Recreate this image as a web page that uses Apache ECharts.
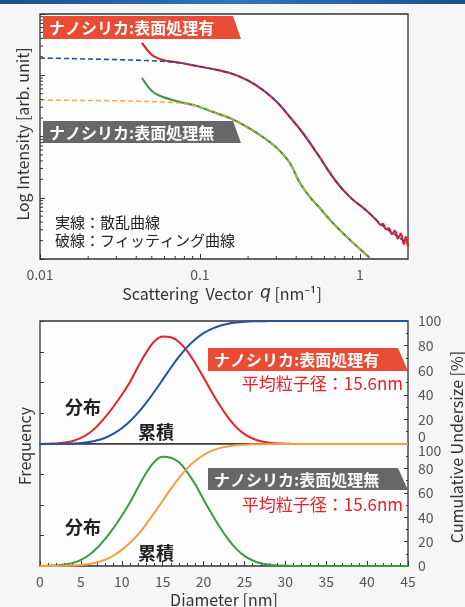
<!DOCTYPE html>
<html><head><meta charset="utf-8">
<script src="https://cdn.jsdelivr.net/npm/echarts@6/dist/echarts.min.js"></script>
<style>html,body{margin:0;padding:0;background:#f6f6f6;}#c{width:465px;height:607px;}</style>
</head><body><div id="c"></div>
<script>
// ---- Top chart: scattering curves (q in nm^-1, intensity arb.) ----
const treatedQ = [0.0434, 0.0501, 0.0587, 0.075, 0.0958, 0.1206, 0.154, 0.197, 0.248, 0.303, 0.365, 0.44, 0.538, 0.698, 0.866, 1.106, 1.25, 1.3, 1.35, 1.40, 1.454, 1.517, 1.585, 1.655, 1.728, 1.803, 1.884, 1.939, 2.0];
const treatedI = [3365, 2142, 1775, 1600, 1416, 1265, 1088, 836, 574, 366, 208, 114, 53.8, 19.5, 10.3, 6.08, 4.5, 4.0, 3.6, 3.75, 3.05, 3.2, 2.55, 2.9, 2.15, 2.6, 1.75, 2.3, 1.6];
const treatedFitQ = [0.01, 0.02, 0.0365, 0.0587, 0.075, 0.0958, 0.1206, 0.154, 0.197, 0.248, 0.303, 0.365, 0.44, 0.538, 0.698, 0.866, 1.106, 1.393, 1.778, 2.0];
const treatedFitI = [1914, 1842, 1775, 1690, 1585, 1416, 1265, 1088, 836, 574, 366, 208, 114, 53.8, 19.5, 10.3, 6.08, 3.46, 2.2, 1.76];
const untreatedQ = [0.0434, 0.0501, 0.0587, 0.075, 0.0958, 0.1206, 0.154, 0.197, 0.248, 0.303, 0.365, 0.422, 0.487, 0.562, 0.678, 0.83, 1.0, 1.155];
const untreatedI = [902, 553, 441, 366, 315, 251, 200, 143, 98, 64.9, 36.9, 17.4, 10.3, 6.8, 3.87, 2.29, 1.46, 1.04];
const untreatedFitQ = [0.01, 0.02, 0.0365, 0.0587, 0.075, 0.0958, 0.1206, 0.154, 0.197, 0.248, 0.303, 0.365, 0.422, 0.487, 0.562, 0.678, 0.83, 1.0, 1.155];
const untreatedFitI = [394, 387, 380, 366, 352, 315, 251, 200, 143, 98, 64.9, 36.9, 17.4, 10.3, 6.8, 3.87, 2.29, 1.46, 1.04];
const qTickLabels = ['0.01', '0.1', '1'];
const qMinorTicks = [0.02,0.03,0.04,0.05,0.06,0.07,0.08,0.09,0.2,0.3,0.4,0.5,0.6,0.7,0.8,0.9];
const iMinorTicks = [2,3,4,5,6,7,8,9,20,30,40,50,60,70,80,90,200,300,400,500,600,700,800,900,2000,3000,4000,5000,6000,7000,8000,9000];

// ---- Bottom chart: particle size distribution (diameter nm) ----
const diameters = [0,1,2,3,4,5,6,7,8,9,10,11,12,13,14,15,16,17,18,19,20,21,22,23,24,25,26,27,28,29,30,31,32,33,34,35,36,37,38,39,40,41,42,43,44,45];
const freqTreated = [0,0.01,0.02,0.05,0.1,0.2,0.35,0.58,0.88,1.22,1.6,2.02,2.52,2.98,3.34,3.5,3.47,3.32,3.02,2.62,2.16,1.69,1.25,0.86,0.55,0.32,0.18,0.09,0.04,0.02,0.01,0,0,0,0,0,0,0,0,0,0,0,0,0,0,0];
const cumTreated = [0,0,0.1,0.2,0.4,0.8,1.6,3.0,5.1,8.4,12.8,18.5,25.5,33.7,42.7,52.3,62.0,71.0,78.8,85.2,90.1,93.6,96.1,97.7,98.7,99.3,99.7,99.85,99.93,99.97,100,100,100,100,100,100,100,100,100,100,100,100,100,100,100,100];
const freqUntreated = [0,0.01,0.02,0.05,0.1,0.2,0.36,0.6,0.9,1.25,1.65,2.08,2.58,3.06,3.42,3.58,3.55,3.4,3.08,2.67,2.18,1.71,1.27,0.88,0.56,0.33,0.18,0.09,0.04,0.02,0.01,0,0,0,0,0,0,0,0,0,0,0,0,0,0,0];
const cumUntreated = [0,0,0.1,0.2,0.4,0.8,1.6,3.0,5.2,8.6,13.2,19.0,26.0,34.5,43.8,53.5,63.2,72.2,80.0,86.2,91.0,94.4,96.6,98.0,98.9,99.4,99.7,99.85,99.93,99.97,100,100,100,100,100,100,100,100,100,100,100,100,100,100,100,100];
const cumTicks = [0,20,40,60,80,100];

const FONT = '"Noto Sans CJK JP", "Noto Sans", sans-serif';
const RED = '#e8202a', BLUE = '#2a4f9e', GREEN = '#3a9a45', ORANGE = '#f0a040';
const AX = '#333';

const zip = (a, b) => a.map((v, i) => [v, b[i]]);

function minorTickSeries(data, dir, len) {
  return {
    type: 'custom', xAxisIndex: 0, yAxisIndex: 0, silent: true, clip: false, z: 5,
    data: data,
    renderItem: (p, api) => {
      const c = api.coord([api.value(0), api.value(1)]);
      const shape = dir === 'x' ? {x1:c[0], y1:c[1], x2:c[0], y2:c[1]-len} : {x1:c[0], y1:c[1], x2:c[0]+len, y2:c[1]};
      return {type:'line', shape, style:{stroke:AX, lineWidth:1}};
    }
  };
}

function banner(x, y, w, h, slant, color, text) {
  return [
    {type:'polygon', shape:{points:[[x,y],[x+w-slant,y],[x+w,y+h],[x,y+h]]}, style:{fill:color}, z:100},
    {type:'text', x:x+6, y:y+h/2+0.5, z:101, style:{text, fill:'#fff', fontSize:16, fontWeight:'bold', fontFamily:FONT, verticalAlign:'middle', align:'left'}}
  ];
}
function txt(x, y, text, size, color, opts) {
  return Object.assign({type:'text', x, y, z:101, style:Object.assign({text, fill:color, fontSize:size, fontFamily:FONT, verticalAlign:'middle', align:'left'}, (opts && opts.style) || {})}, (opts && opts.el) || {});
}

const gridBase = {show:true, borderColor:AX, borderWidth:1.3, backgroundColor:'#fdfdfd'};

const option = {
  backgroundColor: '#f6f6f6',
  animation: false,
  textStyle: {fontFamily: FONT},
  grid: [
    Object.assign({left:40, top:14, width:368, height:245}, gridBase),
    Object.assign({left:40, top:321, width:368, height:123}, gridBase),
    Object.assign({left:40, top:444, width:368, height:122}, gridBase)
  ],
  xAxis: [
    {type:'log', gridIndex:0, min:0.01, max:2, logBase:10,
     axisLine:{show:false}, splitLine:{show:false},
     axisTick:{inside:true, length:5, lineStyle:{color:AX}},
     axisLabel:{color:'#555', fontSize:14, margin:9, showMaxLabel:false,
       formatter: v => { const l = Math.log10(v); const i = Math.round(l) + 2; return Math.abs(l - Math.round(l)) < 1e-6 && qTickLabels[i] ? qTickLabels[i] : ''; }}},
    {type:'value', gridIndex:1, min:0, max:45, interval:5, axisLine:{show:false}, axisTick:{show:false}, axisLabel:{show:false}, splitLine:{show:false}},
    {type:'value', gridIndex:2, min:0, max:45, interval:5, axisLine:{show:false}, splitLine:{show:false},
     axisTick:{inside:true, length:5, lineStyle:{color:AX}},
     minorTick:{show:true, splitNumber:5, length:3, lineStyle:{color:AX}},
     axisLabel:{color:'#555', fontSize:14, margin:9}}
  ],
  yAxis: [
    {type:'log', gridIndex:0, min:1, max:10000, logBase:10, axisLine:{show:false}, splitLine:{show:false},
     axisTick:{inside:true, length:5, lineStyle:{color:AX}}, axisLabel:{show:false}},
    {type:'value', gridIndex:1, min:0, max:4, interval:1, axisLine:{show:false}, splitLine:{show:false},
     axisTick:{inside:true, length:4, lineStyle:{color:AX}}, axisLabel:{show:false}},
    {type:'value', gridIndex:1, position:'right', min:0, max:100, interval:20, axisLine:{show:false}, splitLine:{show:false},
     axisTick:{inside:true, length:4, lineStyle:{color:AX}},
     minorTick:{show:true, splitNumber:2, length:2, lineStyle:{color:AX}},
     axisLabel:{color:'#555', fontSize:14, margin:10, verticalAlignMinLabel:'bottom'}},
    {type:'value', gridIndex:2, min:0, max:4, interval:1, axisLine:{show:false}, splitLine:{show:false},
     axisTick:{inside:true, length:4, lineStyle:{color:AX}}, axisLabel:{show:false}},
    {type:'value', gridIndex:2, position:'right', min:0, max:100, interval:20, axisLine:{show:false}, splitLine:{show:false},
     axisTick:{inside:true, length:4, lineStyle:{color:AX}},
     minorTick:{show:true, splitNumber:2, length:2, lineStyle:{color:AX}},
     axisLabel:{color:'#555', fontSize:14, margin:10, verticalAlignMaxLabel:'top'}}
  ],
  series: [
    {type:'line', xAxisIndex:0, yAxisIndex:0, data:zip(treatedQ, treatedI), showSymbol:false, smooth:0.3, lineStyle:{color:RED, width:2.2}, z:2},
    {type:'line', xAxisIndex:0, yAxisIndex:0, data:zip(treatedFitQ, treatedFitI), showSymbol:false, smooth:0.3, lineStyle:{color:BLUE, width:1.6, type:[5,3]}, z:3},
    {type:'line', xAxisIndex:0, yAxisIndex:0, data:zip(untreatedQ, untreatedI), showSymbol:false, smooth:0.3, lineStyle:{color:GREEN, width:2.2}, z:2},
    {type:'line', xAxisIndex:0, yAxisIndex:0, data:zip(untreatedFitQ, untreatedFitI), showSymbol:false, smooth:0.3, lineStyle:{color:ORANGE, width:1.6, type:[5,3], opacity:0.85}, z:3},
    minorTickSeries(qMinorTicks.map(v => [v, 1]), 'x', 3),
    minorTickSeries(iMinorTicks.map(v => [0.01, v]), 'y', 3),
    {type:'line', xAxisIndex:1, yAxisIndex:1, data:zip(diameters, freqTreated), showSymbol:false, smooth:0.4, lineStyle:{color:RED, width:2}},
    {type:'line', xAxisIndex:1, yAxisIndex:2, data:zip(diameters, cumTreated), showSymbol:false, smooth:0.4, lineStyle:{color:BLUE, width:2}},
    {type:'line', xAxisIndex:2, yAxisIndex:3, data:zip(diameters, freqUntreated), showSymbol:false, smooth:0.4, lineStyle:{color:GREEN, width:2}},
    {type:'line', xAxisIndex:2, yAxisIndex:4, data:zip(diameters, cumUntreated), showSymbol:false, smooth:0.4, lineStyle:{color:ORANGE, width:2}}
  ],
  graphic: [
    {type:'rect', shape:{x:0, y:0, width:465, height:4}, z:100,
     style:{fill:new echarts.graphic.LinearGradient(0,0,1,0,[{offset:0,color:'#1d4f8f'},{offset:0.5,color:'#2f74c0'},{offset:1,color:'#1d4f8f'}])}},
    ...banner(43, 16, 198, 23, 8, '#e94b35', 'ナノシリカ:表面処理有'),
    ...banner(43, 121, 198, 22, 8, '#676767', 'ナノシリカ:表面処理無'),
    txt(55, 222, '実線：散乱曲線', 15, '#222'),
    txt(55, 240, '破線：フィッティング曲線', 15, '#222'),
    txt(23, 134, 'Log Intensity [arb. unit]', 16, '#333', {el:{rotation:Math.PI/2}, style:{align:'center'}}),
    {type:'text', x:222, y:294, z:101, style:{
      text:'{a|Scattering  Vector  }{q|q}{a| [nm⁻¹]}', align:'center', verticalAlign:'middle', fill:'#333',
      rich:{a:{fontSize:16, fontFamily:FONT, fill:'#333'}, q:{fontSize:17, fontStyle:'italic', fontFamily:'"DejaVu Sans", sans-serif', fill:'#333'}}}},
    ...banner(208, 348, 200, 23, 10, '#e94b35', 'ナノシリカ:表面処理有'),
    txt(403, 384, '平均粒子径：15.6nm', 17, RED, {style:{align:'right'}}),
    txt(65, 407, '分布', 18, '#222', {style:{fontWeight:'bold'}}),
    txt(138, 432, '累積', 18, '#222', {style:{fontWeight:'bold'}}),
    ...banner(208, 468, 200, 22, 10, '#676767', 'ナノシリカ:表面処理無'),
    txt(403, 505, '平均粒子径：15.6nm', 17, RED, {style:{align:'right'}}),
    txt(65, 527, '分布', 18, '#222', {style:{fontWeight:'bold'}}),
    txt(138, 553, '累積', 18, '#222', {style:{fontWeight:'bold'}}),
    txt(25, 446, 'Frequency', 16, '#333', {el:{rotation:Math.PI/2}, style:{align:'center'}}),
    txt(457, 447, 'Cumulative Undersize [%]', 16, '#333', {el:{rotation:Math.PI/2}, style:{align:'center'}}),
    txt(224, 600, 'Diameter [nm]', 16, '#333', {style:{align:'center'}})
  ]
};

const chart = echarts.init(document.getElementById('c'), null, {renderer:'canvas'});
chart.setOption(option);
</script>
</body></html>
